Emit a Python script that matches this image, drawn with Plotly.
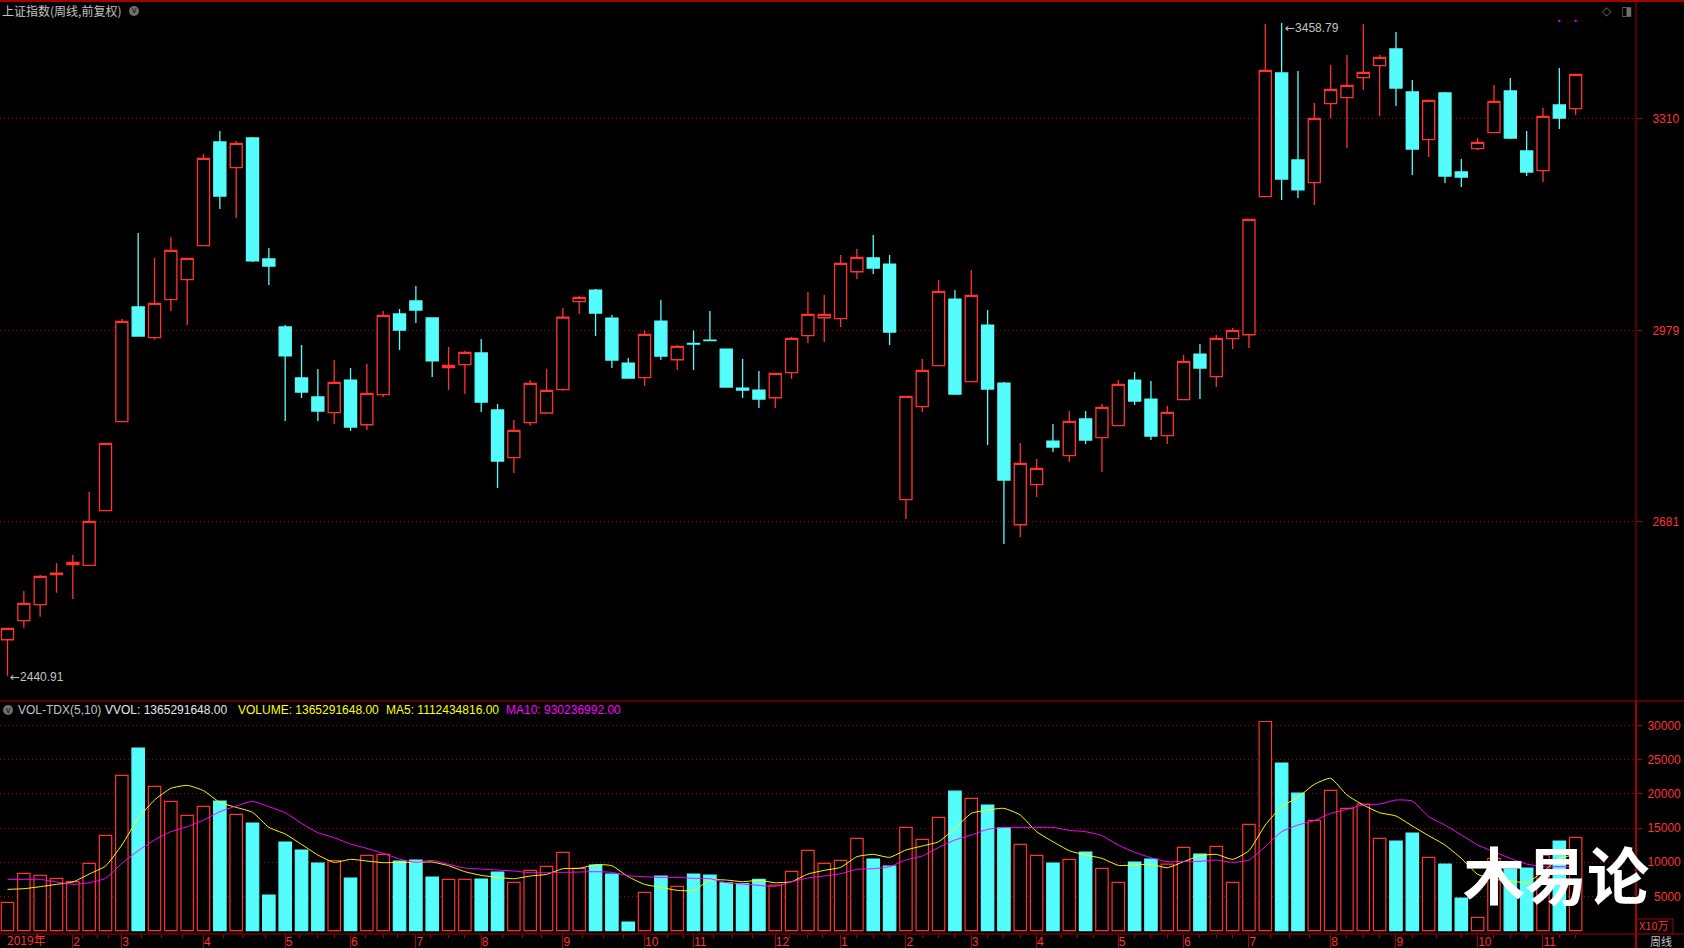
import plotly.graph_objects as go

W, H = 1684, 948

# ---------- weekly candles (price index points) ----------
opens = [2497.1,2526.8,2551.7,2598.5,2614.1,2613.0,2698.3,2837.0,3015.9,2968.0,3027.3,3058.5,3111.5,3273.1,3233.1,3279.3,
         3090.7,2984.7,2905.2,2875.5,2851.1,2902.0,2832.3,2879.2,3004.9,3025.2,2998.7,2921.3,2925.9,2944.1,2855.3,2780.9,
         2835.5,2850.6,2886.9,3024.1,3042.3,2998.6,2928.5,2905.6,2993.9,2933.6,2959.1,2964.3,2950.3,2889.5,2886.4,2874.4,
         2913.4,2971.1,2999.1,2997.6,3070.8,3092.2,3082.8,2715.4,2860.4,2924.3,3028.2,2899.4,2987.7,2897.3,2676.4,2738.8,
         2806.8,2784.0,2841.2,2812.1,2830.8,2902.0,2872.3,2815.2,2871.3,2942.5,2907.2,2966.4,2972.6,3187.9,3380.7,3245.0,
         3209.7,3332.9,3342.2,3373.4,3392.1,3418.1,3351.1,3276.7,3349.5,3226.3,3262.7,3287.7,3352.6,3259.1,3228.4,3330.8,3325.1]
closes = [2514.8,2553.8,2595.9,2601.1,2617.7,2681.6,2803.2,2993.5,2970.6,3021.6,3104.2,3091.7,3247.6,3188.9,3271.0,3087.6,
          3079.8,2939.5,2883.3,2853.6,2898.4,2828.7,2881.3,3002.9,2980.0,3011.2,2931.7,2924.9,2945.2,2867.7,2775.7,2823.5,
          2896.9,2885.9,3000.2,3030.8,3006.4,2933.1,2905.1,2973.1,2939.4,2954.4,2958.1,2963.3,2891.0,2886.4,2872.3,2912.3,
          2966.9,3004.3,3004.3,3083.8,3093.2,3076.6,2976.8,2876.5,2917.0,3040.2,2880.1,3033.9,2887.9,2746.0,2772.0,2764.2,
          2797.5,2837.5,2808.4,2859.3,2895.2,2869.2,2814.7,2851.6,2931.1,2920.7,2966.9,2979.4,3152.5,3384.8,3215.4,3198.3,
          3310.0,3355.2,3361.5,3381.7,3405.1,3357.3,3262.2,3338.1,3220.1,3218.5,3272.6,3336.5,3279.3,3226.3,3313.1,3310.5,3378.6]
highs = [2514.8,2573.0,2598.0,2616.7,2629.1,2727.4,2803.2,2997.1,3131.2,3092.3,3124.5,3091.7,3254.4,3290.3,3274.7,3280.9,
         3107.8,2987.8,2956.6,2919.2,2933.2,2920.8,2927.0,3009.6,3012.7,3048.6,2998.7,2953.5,2947.3,2966.0,2864.6,2839.6,
         2902.0,2919.2,3014.2,3032.9,3043.8,3003.3,2936.2,2979.4,3026.7,2956.5,2979.4,3009.5,2950.3,2934.7,2916.0,2912.3,
         2969.0,3039.1,3034.5,3096.8,3106.2,3128.0,3096.8,2876.5,2934.7,3057.9,3042.3,3073.4,3011.1,2898.8,2803.7,2778.8,
         2833.3,2853.6,2853.6,2864.5,2902.0,2914.4,2900.4,2861.4,2940.9,2958.1,2972.1,2983.0,3152.5,3457.1,3458.79,3383.8,
         3333.9,3393.2,3408.7,3457.1,3408.7,3444.6,3369.8,3338.1,3351.1,3246.6,3279.3,3362.0,3372.9,3290.3,3326.1,3388.5,3378.6]
lows = [2440.91,2515.8,2533.0,2570.4,2560.5,2613.0,2698.3,2837.0,2970.6,2964.9,3009.6,2987.8,3111.5,3168.6,3154.6,3086.0,
        3050.2,2838.1,2874.0,2838.1,2833.4,2822.5,2824.0,2875.5,2948.8,2990.9,2906.7,2886.5,2880.2,2852.1,2733.6,2757.0,
        2830.8,2849.0,2885.3,3004.8,2970.5,2920.7,2905.1,2892.6,2933.1,2917.5,2917.5,2963.3,2891.0,2873.9,2858.3,2858.3,
        2903.5,2959.6,2961.2,2984.6,3059.4,3067.2,2956.5,2685.2,2852.1,2924.3,2878.6,2899.4,2800.6,2646.3,2657.2,2719.5,
        2789.7,2774.1,2802.2,2758.5,2830.8,2863.0,2808.4,2802.2,2871.3,2872.3,2891.0,2950.3,2951.9,3187.9,3182.7,3185.8,
        3174.9,3310.0,3263.8,3354.2,3313.6,3329.2,3221.7,3249.7,3209.2,3202.9,3260.6,3287.7,3277.8,3220.1,3210.7,3293.4,3315.2]

# ---------- volume (x10万) and its moving averages ----------
volumes = [4140,8380,8085,7650,7160,9840,13930,22700,26690,21090,18900,16850,18170,18945,17000,15730,5210,12950,11785,9890,
           10230,7695,11000,11150,10180,10320,7840,7500,7500,7550,8570,7060,8815,9400,11445,9105,9590,8280,1270,5600,
           7990,6480,8280,8130,7010,6870,7500,6670,8670,11740,9840,10280,13490,10470,9450,15100,13340,16560,20400,19330,
           18360,15050,12610,11000,9890,10420,11490,9105,7060,10030,10470,9740,12175,11200,12320,7060,15535,30580,24500,20110,
           16120,20500,17870,18500,13490,13100,14270,10710,9740,4770,1950,10570,9010,9155,11050,13100,13653]
ma5 = [6043,6140,6432,6774,7115,8284,9454,12524,16422,19102,20808,21246,20467,18761,18030,17299,15106,14132,12621,11062,
       9990,10428,10185,9941,9990,9990,10038,9502,8625,8089,7797,7602,7992,8235,9064,9113,9649,9502,7894,6774,
       6335,5896,5896,7407,7407,7163,7358,7017,7163,8284,8820,9259,10818,11159,10721,11793,12377,13011,14960,17153,
       17640,17884,16909,14473,13011,11695,11062,10574,9551,9600,9697,9210,10087,10964,11159,10428,11695,15447,18128,19492,
       21392,22270,19833,18371,17250,16763,15301,13888,12524,10574,8235,7504,7310,7017,8625,10574,11124]
ma10 = [7504,7504,7504,7115,6774,7017,7651,9843,11695,13255,14473,15204,16178,17397,18225,18907,18128,17250,15691,14327,
        13596,12670,12036,11305,10477,9990,10282,9697,9161,9015,8869,8723,8479,8479,8528,8576,8625,8528,8040,7894,
        7797,7797,7651,7602,7017,6822,6627,6481,7163,7699,7992,8333,8966,9064,9356,10331,10916,12183,13255,13986,
        14814,15106,15106,15106,15106,14668,14473,13888,12524,11452,10672,10087,10136,10136,10331,9990,10331,12280,14473,15447,
        16081,17153,17738,18371,18517,19102,18956,16666,15447,13986,12524,11549,10574,9746,9356,9356,9302]

week_index = list(range(len(opens)))

# ---------- axes ----------
price_ticks = [2681, 2979, 3310]
vol_ticks = [5000, 10000, 15000, 20000, 25000, 30000]
vol_tick_text = ["\u20075000", "10000", "15000", "20000", "25000", "30000"]
month_weeks = [4,7,12,17,21,25,29,34,39,42,47,51,55,59,63,68,72,76,81,85,90,94]
month_labels = ["2","3","4","5","6","7","8","9","10","11","12","1","2","3","4","5","6","7","8","9","10","11"]
minor_weeks = [4.6,5.5,6.2,8.2,9.4,10.7,13.2,14.4,15.8,17.9,19,20,21.9,23,23.9,25.9,27,28,30.3,31.5,32.7,35.2,36.5,37.7,
               40.4,41.4,43.2,44.4,45.6,47.9,49,49.9,52,53,54,56,57,58,60,61,62,64.5,65.5,66.5,69,70,71,73,74,75,
               77.3,78.5,79.7,82,83,84,86,87.5,89,91,92,93,95,96]
marker_weeks = [95, 96]
marker_prices = [3462, 3462]

RED = "#ff3232"
CYAN = "#54fcfc"
DARK = "#a80000"
GREY = "#c4c4c4"
ZH = "Noto Sans CJK SC"
SANS = "Liberation Sans"

def X(p): return p / W
def Y(p): return 1 - p / H

x_range = [-7.5 / 16.335, (1636 - 7.5) / 16.335]
up = [c >= o for o, c in zip(opens, closes)]

fig = go.Figure()
fig.add_trace(go.Candlestick(
    x=week_index, open=opens, high=highs, low=lows, close=closes,
    increasing=dict(line=dict(color=RED, width=1.3), fillcolor="#000000"),
    decreasing=dict(line=dict(color=CYAN, width=1.3), fillcolor=CYAN),
    whiskerwidth=0, xaxis="x", yaxis="y", showlegend=False))
fig.add_trace(go.Scatter(x=marker_weeks, y=marker_prices, mode="markers",
    marker=dict(color="#ff00ff", size=2, symbol="square"), xaxis="x", yaxis="y", showlegend=False))
fig.add_trace(go.Bar(
    x=week_index, y=volumes, width=0.76,
    marker=dict(color=["#000000" if u else CYAN for u in up],
                line=dict(color=[RED if u else CYAN for u in up], width=1.2)),
    xaxis="x2", yaxis="y2", showlegend=False))
fig.add_trace(go.Scatter(x=week_index, y=ma5, mode="lines",
    line=dict(color="#ffff00", width=1, shape="spline", smoothing=0.5), xaxis="x2", yaxis="y2", showlegend=False))
fig.add_trace(go.Scatter(x=week_index, y=ma10, mode="lines",
    line=dict(color="#ff00ff", width=1, shape="spline", smoothing=0.5), xaxis="x2", yaxis="y2", showlegend=False))

def text(s, px, py, color=GREY, size=12, font=SANS, anchor="left"):
    return dict(text=s, x=X(px), y=Y(py), xref="paper", yref="paper", showarrow=False, xanchor=anchor,
                yanchor="middle", font=dict(color=color, size=size, family=font))

annotations = [
    text("上证指数(周线,前复权)", 0, 10.5, font=ZH),
    text("VOL-TDX(5,10)", 16, 710),
    text("VVOL: 1365291648.00", 103, 710, color="#e8e8e8"),
    text("VOLUME: 1365291648.00", 236, 710, color="#ffff00"),
    text("MA5: 1112434816.00", 384, 710, color="#ffff00"),
    text("MA10: 930236992.00", 504, 710, color="#ff00ff"),
    text("2019年", 5, 939.5, color=RED, font=ZH, size=12),
    text("X10万", 1637, 925, color=RED, font=ZH, size=11),
    text("周线", 1648, 940.5, font=ZH, size=11),
    text("v", 134, 10.5, color="#111111", size=9, anchor="center"),
    text("v", 8, 710, color="#111111", size=9, anchor="center"),
    text("◇", 1607, 11.5, color="#707070", size=12, font="DejaVu Sans", anchor="center"),
    text("◨", 1626, 11.5, color="#707070", size=12, font="DejaVu Sans", anchor="center"),
    dict(text='<span style="font-family:DejaVu Sans">←</span>2440.91', x=0, y=2440.91, xref="x", yref="y",
         showarrow=False, xanchor="left", yanchor="middle", yshift=-1,
         font=dict(color=GREY, size=12, family=SANS)),
    dict(text='<span style="font-family:DejaVu Sans">←</span>3458.79', x=78, y=3458.79, xref="x", yref="y",
         showarrow=False, xanchor="left", yanchor="middle", xshift=1, yshift=-5,
         font=dict(color=GREY, size=12, family=SANS)),
    text("木易论", 1556, 873, color="#ffffff", size=62, font=ZH, anchor="center"),
]
annotations[-1]["font"]["weight"] = 700

def hline(py, x0=0, x1=W, width=1):
    return dict(type="line", xref="paper", yref="paper", x0=X(x0), x1=X(x1), y0=Y(py), y1=Y(py),
                line=dict(color=DARK, width=width), layer="above")

def vline(px, y0, y1, width=1):
    return dict(type="line", xref="paper", yref="paper", x0=X(px), x1=X(px), y0=Y(y0), y1=Y(y1),
                line=dict(color=DARK, width=width), layer="above")

def dot(cx, cy):
    return dict(type="circle", xref="paper", yref="paper", x0=X(cx - 5), x1=X(cx + 5), y0=Y(cy + 5), y1=Y(cy - 5),
                fillcolor="#707070", line=dict(width=0), layer="above")

shapes = [
    hline(1, width=2), hline(701), hline(934),
    vline(1636, 0, 701), vline(1636, 701, 948, width=2),
    hline(919, 1636, 1673), vline(1673, 919, 934),
    dot(134, 11), dot(8, 710),
]

gridkw = dict(showgrid=True, gridcolor=DARK, griddash="1px,3px", gridwidth=1, zeroline=False, showline=False)

fig.update_layout(
    width=W, height=H, autosize=False,
    margin=dict(l=0, r=0, t=0, b=0),
    paper_bgcolor="#000000", plot_bgcolor="#000000",
    showlegend=False, boxgap=0.26, boxgroupgap=0, hovermode=False,
    annotations=annotations, shapes=shapes,
    xaxis=dict(domain=[0, 1636 / W], range=x_range, anchor="y", showticklabels=False, ticks="",
               showgrid=False, zeroline=False, rangeslider=dict(visible=False)),
    yaxis=dict(domain=[Y(701), Y(1)], range=[2401.6, 3492.9], side="right", anchor="x",
               tickmode="array", tickvals=price_ticks, ticktext=[str(v) for v in price_ticks],
               ticks="outside", ticklen=5, tickcolor=DARK, tickwidth=1, ticklabelstandoff=8,
               tickfont=dict(color=RED, size=12, family=SANS), **gridkw),
    xaxis2=dict(domain=[0, 1636 / W], range=x_range, anchor="y2", tickmode="array",
                tickvals=month_weeks, ticktext=month_labels, ticks="outside", ticklen=14,
                tickcolor=DARK, tickwidth=1, ticklabelposition="outside right", ticklabelstandoff=-3,
                tickfont=dict(color=RED, size=12, family=SANS), showgrid=False, zeroline=False,
                minor=dict(tickmode="array", tickvals=minor_weeks, ticks="outside", ticklen=3,
                           tickcolor=DARK, tickwidth=1, showgrid=False)),
    yaxis2=dict(domain=[Y(934), Y(702)], range=[-482, 33430], side="right", anchor="x2",
                tickmode="array", tickvals=vol_ticks, ticktext=vol_tick_text,
                ticks="outside", ticklen=5, tickcolor=DARK, tickwidth=1, ticklabelstandoff=3,
                tickfont=dict(color=RED, size=12, family=SANS), **gridkw),
)

fig.write_html("out.html", config={"displayModeBar": False},
               post_script="document.body.style.margin='0';document.body.style.background='#000';document.documentElement.style.overflow='hidden';")
